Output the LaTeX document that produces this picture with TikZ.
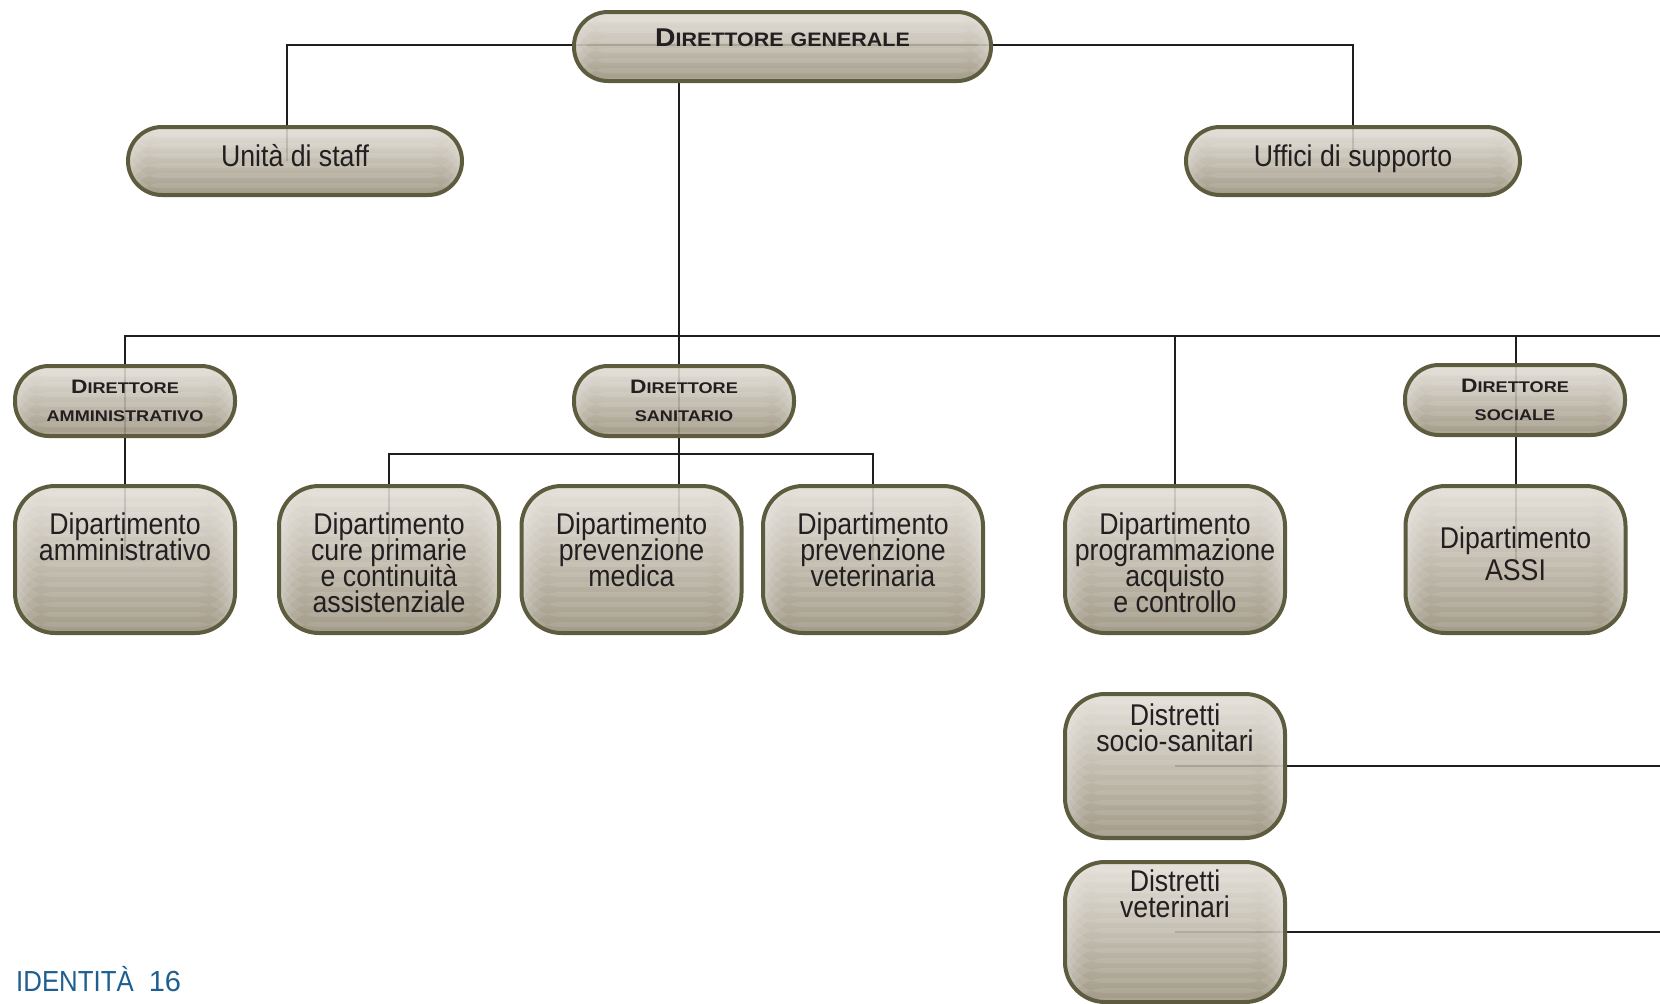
\documentclass[tikz,border=0pt]{standalone}
\usepackage{fontspec}
\setmainfont{Liberation Sans}
\newfontfamily\bxf[FakeStretch=0.89]{Liberation Sans}
\newfontfamily\hdf[FakeStretch=1.1]{Liberation Sans}
\newfontfamily\dirf[FakeStretch=1.17]{Liberation Sans}
\usetikzlibrary{calc}
\pgfdeclarelayer{back}
\pgfdeclarelayer{bg}
\pgfsetlayers{back,bg,main}
\definecolor{bord}{RGB}{93,92,62}
\definecolor{ctop}{RGB}{226,222,214}
\definecolor{cbot}{RGB}{150,141,120}
\definecolor{linec}{RGB}{30,30,30}
\definecolor{txtc}{RGB}{35,31,32}
\definecolor{pgblue}{RGB}{30,95,145}
\newcommand{\hdBig}{\fontsize{19.5}{28.4}\selectfont}
\newcommand{\hdSm}{\fontsize{15.5}{28.4}\selectfont}
\begin{document}
\begin{tikzpicture}[x=1pt,y=-1pt,
  basebox/.style={draw=bord, line width=4pt, top color=ctop, bottom color=cbot, fill opacity=0.88, inner sep=0pt,
    path picture={\foreach \k in {0,...,16}{\fill[white, fill opacity=0.09] ([yshift=-\k*10pt-6pt]path picture bounding box.north west) rectangle ([yshift=-\k*10pt-11pt]path picture bounding box.north east);}}},
  pillbox/.style={basebox, rounded corners=34pt, minimum height=69pt},
  deptbox/.style={basebox, rounded corners=40pt, minimum width=220pt, minimum height=147pt},
  conn/.style={draw=linec, line width=2pt},
  bodytxt/.style={text=txtc, align=center, inner sep=0pt, anchor=base, font={\bxf\fontsize{30}{26}\selectfont\lineskiplimit=-100pt}},
  headtxt/.style={text=txtc, align=center, inner sep=0pt, anchor=base, font={\dirf\bfseries\fontsize{15.5}{28.4}\selectfont\lineskiplimit=-100pt}}]
\begin{pgfonlayer}{back}
\fill[white] (0,0) rectangle (1660,1004);
\end{pgfonlayer}
\useasboundingbox (0,0) rectangle (1660,1004);

% boxes
\node[pillbox, minimum width=417pt] (dg) at (782.5,46.5) {};
\node[pillbox, minimum width=334pt, minimum height=68pt] (staff) at (295,161) {};
\node[pillbox, minimum width=334pt, minimum height=68pt] (supp) at (1353,161) {};
\node[pillbox, minimum width=220pt, minimum height=70pt] (dam) at (125,401) {};
\node[pillbox, minimum width=220pt, minimum height=70pt] (dsan) at (684,401) {};
\node[pillbox, minimum width=220pt, minimum height=70pt] (dsoc) at (1515,400) {};
\node[deptbox] (d1) at (125,559.5) {};
\node[deptbox] (d2) at (389,559.5) {};
\node[deptbox] (d3) at (631.5,559.5) {};
\node[deptbox] (d4) at (873,559.5) {};
\node[deptbox] (d5) at (1175,559.5) {};
\node[deptbox] (d6) at (1515.5,559.5) {};
\node[deptbox, minimum height=144pt] (dist1) at (1175,766) {};
\node[deptbox, minimum height=140pt] (dist2) at (1175,932) {};

\coordinate (busR) at (1660,335.6);
\coordinate (sbus) at (678.5,454.2);

% connectors
\begin{pgfonlayer}{bg}
\draw[conn] ([xshift=-8pt]staff.center) |- ([yshift=2pt]dg.center) -| (supp.center);
\draw[conn] ([xshift=47pt]d3.center) -- ([xshift=47pt]d3.center |- dg.south);
\draw[conn] (dam.center) |- (busR);
\draw[conn] (d5.center) -- (d5.center |- busR);
\draw[conn] (d6.center) -- (d6.center |- busR);
\draw[conn] (d1.center) -- (dam.center);
\draw[conn] (d2.center) |- (sbus) -| (d4.center);
\draw[conn] (dist1.center) -- (dist1.center -| busR);
\draw[conn] (dist2.center) -- (dist2.center -| busR);
\end{pgfonlayer}

% texts (anchor=base is the baseline of the last line)
\node[headtxt, font={\hdf\bfseries}] (tdg) at (782.5,46.7) {{\fontsize{25.7}{30}\selectfont D}{\fontsize{19.5}{30}\selectfont IRETTORE\hspace{7pt}GENERALE}};
\node[bodytxt] (tstaff) at (295,166) {Unità di staff};
\node[bodytxt] (tsupp) at (1353,166) {Uffici di supporto};
\node[headtxt] (tdam) at (125,421.7) {{\hdBig D}{\hdSm IRETTORE}\\{\hdSm AMMINISTRATIVO}};
\node[headtxt] (tdsan) at (684,421.7) {{\hdBig D}{\hdSm IRETTORE}\\{\hdSm SANITARIO}};
\node[headtxt] (tdsoc) at (1515,420.9) {{\hdBig D}{\hdSm IRETTORE}\\{\hdSm SOCIALE}};
\node[bodytxt] (t1) at (125,560.3) {Dipartimento\\amministrativo};
\node[bodytxt] (t2) at (389,612.3) {Dipartimento\\cure primarie\\e continuità\\assistenziale};
\node[bodytxt] (t3) at (631.5,586.3) {Dipartimento\\prevenzione\\medica};
\node[bodytxt] (t4) at (873,586.3) {Dipartimento\\prevenzione\\veterinaria};
\node[bodytxt] (t5) at (1175,612.3) {Dipartimento\\programmazione\\acquisto\\e controllo};
\node[bodytxt, font={\bxf\fontsize{30}{32}\selectfont\lineskiplimit=-100pt}] (t6) at (1515.5,580) {Dipartimento\\ASSI};
\node[bodytxt] (tdist1) at (1175,751) {Distretti\\socio-sanitari};
\node[bodytxt] (tdist2) at (1175,917) {Distretti\\veterinari};
\node[text=pgblue, anchor=base west, inner sep=0pt, font={\bxf\fontsize{29}{30}\selectfont}] (pg) at (16,991.7) {IDENTITÀ\hspace{15pt}{\fontspec{Liberation Sans}\fontsize{29}{30}\selectfont 16}};
\end{tikzpicture}
\end{document}
